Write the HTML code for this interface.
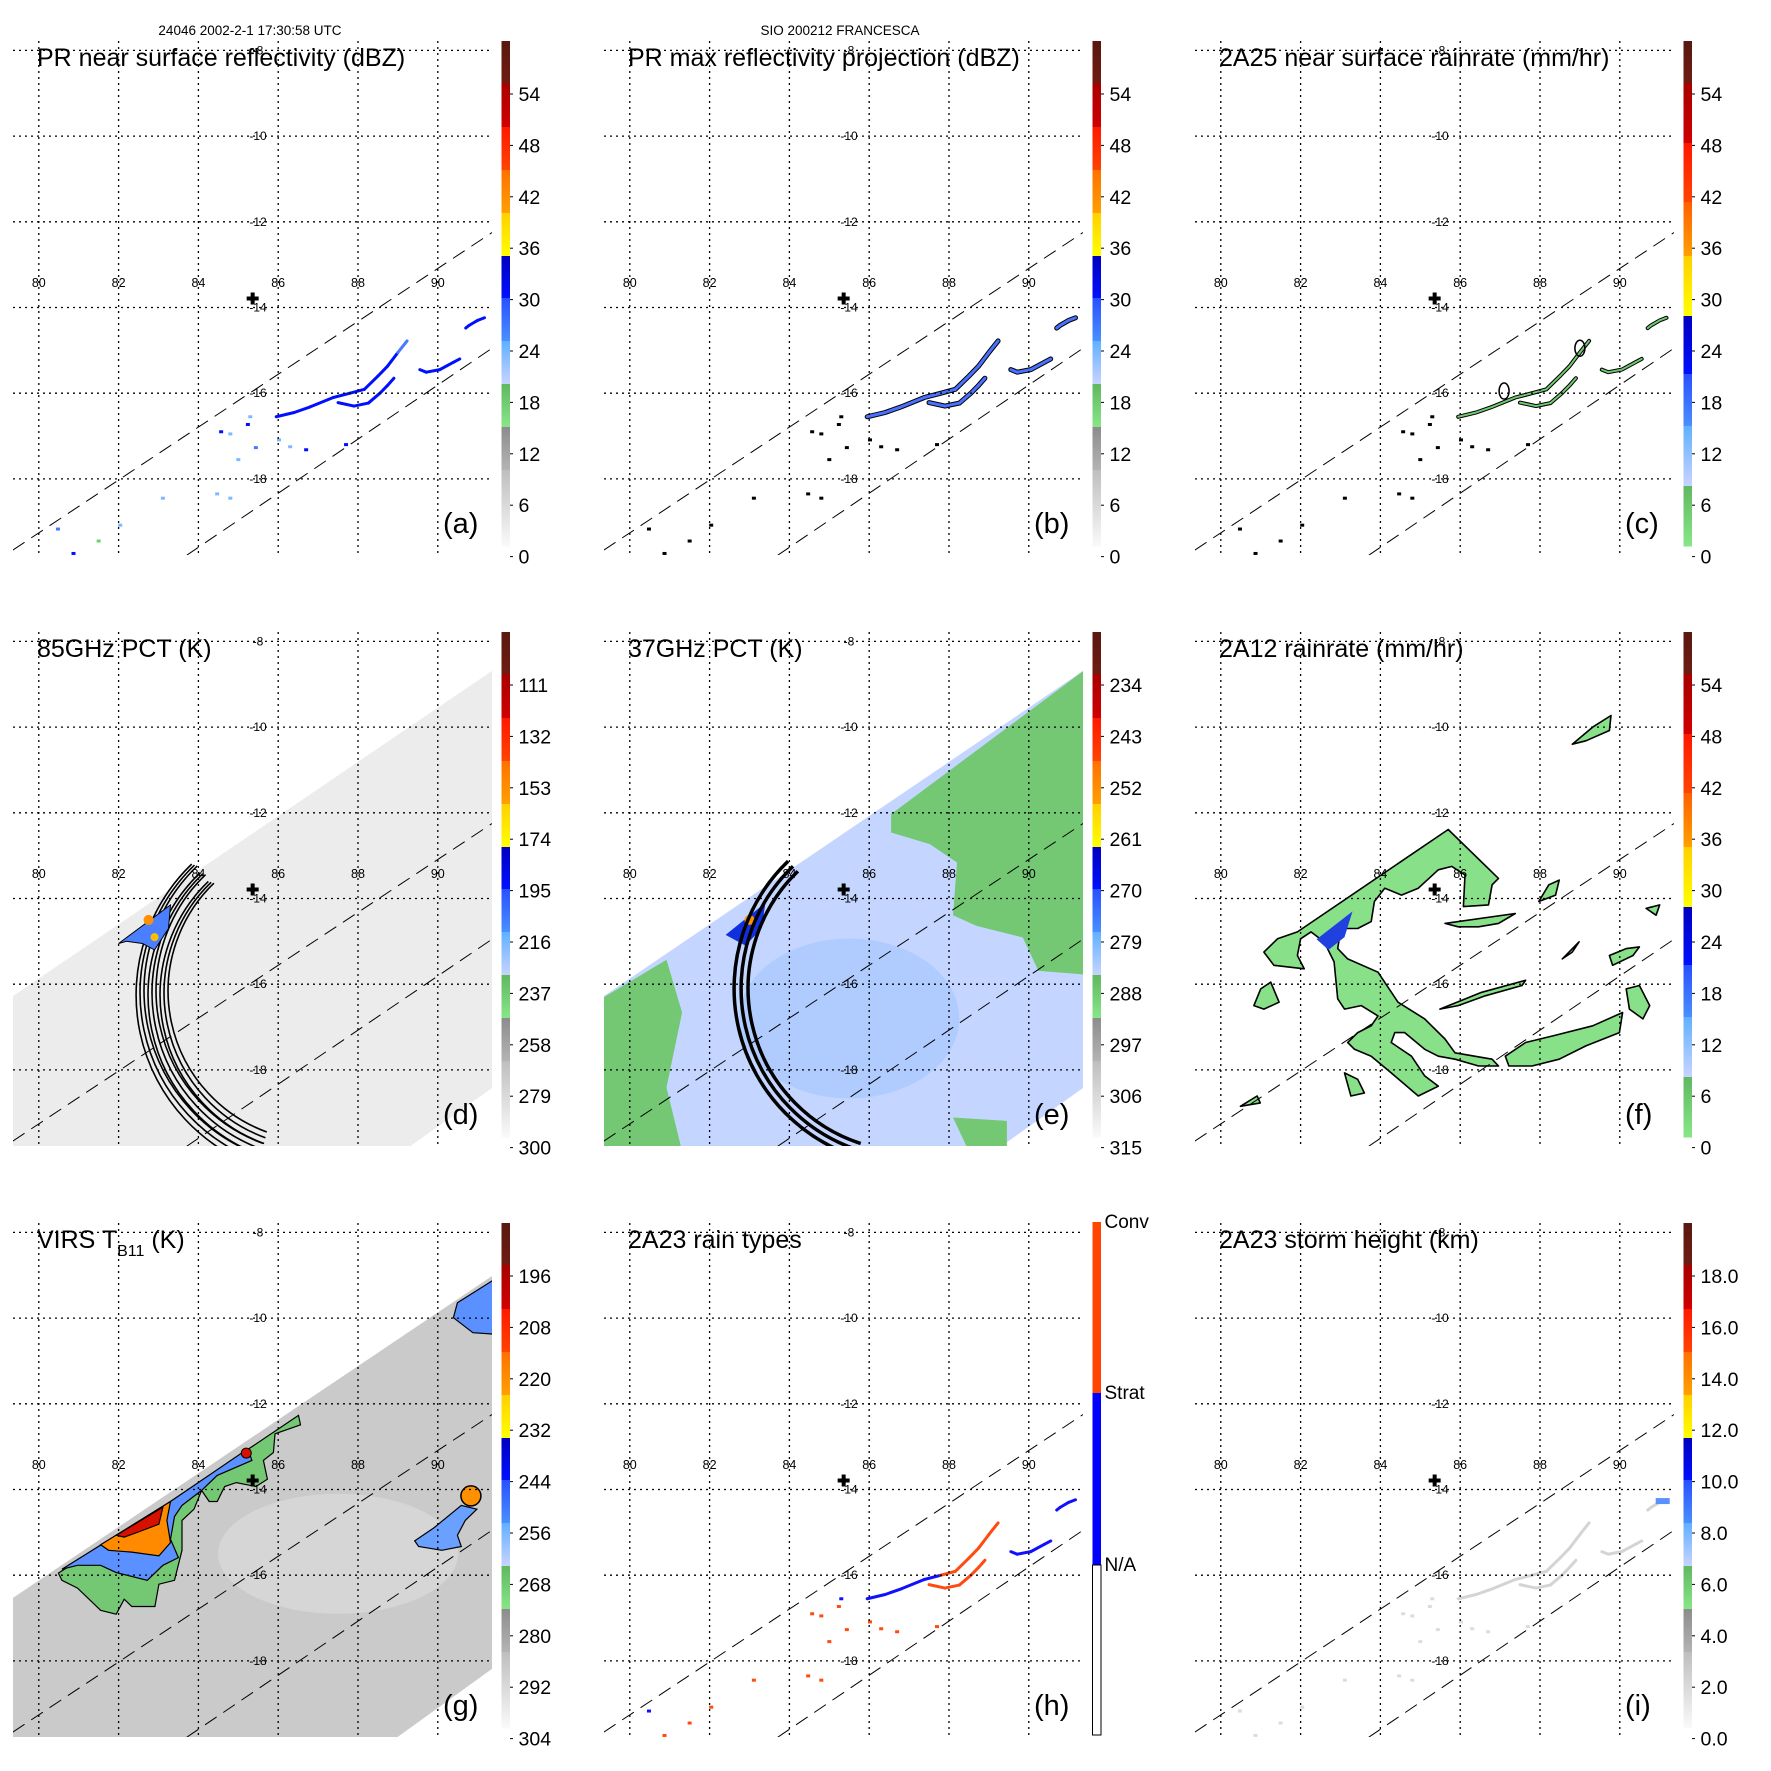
<!DOCTYPE html>
<html><head><meta charset="utf-8"><title>SIO 200212 FRANCESCA</title>
<style>html,body{margin:0;padding:0;background:#fff}svg{display:block}text{font-family:"Liberation Sans",sans-serif}</style>
</head><body>
<svg id="fig" xmlns="http://www.w3.org/2000/svg" width="1771" height="1771" viewBox="0 0 1771 1771">
<rect width="1771" height="1771" fill="#fff"/>
<text x="250" y="35" font-size="13.5" text-anchor="middle">24046 2002-2-1 17:30:58 UTC</text>
<text x="840" y="35" font-size="13.5" text-anchor="middle">SIO 200212 FRANCESCA</text>
</svg>
<script>
// ---------- data ----------
const lonTicks=[80,82,84,86,88,90];
const latTicks=[-8,-10,-12,-14,-16,-18];
const stormCenterLon=85.36, stormCenterLat=-13.79;
const prSwathLon=[[79.35,91.36],[83.71,91.36]];
const prSwathLat=[[-19.66,-12.25],[-19.78,-14.95]];
// PR rain streaks
const streakUpperLon=[85.95,86.40,86.80,87.38,87.80,88.16,88.50,88.74,89.00,89.23];
const streakUpperLat=[-16.55,-16.45,-16.32,-16.10,-16.00,-15.91,-15.60,-15.37,-15.05,-14.78];
const streakLowerLon=[87.50,87.90,88.26,88.55,88.74,88.90];
const streakLowerLat=[-16.22,-16.30,-16.23,-16.00,-15.82,-15.65];
const streakRightLon=[89.55,89.71,90.05,90.39,90.55];
const streakRightLat=[-15.45,-15.51,-15.45,-15.28,-15.20];
const streakNELon=[90.70,90.78,91.00,91.17];
const streakNELat=[-14.48,-14.42,-14.30,-14.24];
const streakUpperDbz=[26,28,30,30,29,31,30,29,30,27];
const scatterLon=[84.57,84.80,85.24,85.30,85.44,86.02,86.30,86.70,83.11,84.47,84.80,80.87,80.48,82.04,81.50,87.70,85.00];
const scatterLat=[-16.90,-16.95,-16.73,-16.55,-17.27,-17.09,-17.25,-17.32,-18.45,-18.35,-18.45,-19.74,-19.17,-19.08,-19.45,-17.20,-17.55];
const scatterDbz=[28,24,30,22,26,20,24,28,24,20,22,30,26,20,18,30,22];
const rainTypeUpper=['C','S','S','S','S','C','C','C','C','C'];
const rainTypeScatter=['C','C','C','S','C','C','C','C','C','C','C','C','S','C','C','C','C'];
// 2A12 rain-rate regions (lon,lat polygons)
const tmiRainLon=[[81.92,85.70,86.96,86.80,86.71,86.08,86.12,85.79,85.45,84.95,84.53,84.11,83.85,83.77,83.43,83.01,82.93,83.18,83.94,84.44,85.11,85.62,85.87,86.80,86.96,86.46,85.87,85.45,85.11,84.61,84.36,84.27,84.78,85.11,85.45,84.95,84.27,83.77,83.35,83.18,83.43,83.77,83.94,83.52,83.10,82.93,82.84,82.59,82.26,82.00,81.92,82.09,81.33,81.08,81.42],
 [85.62,87.38,86.96,86.46,85.95],[85.49,86.54,87.64,87.55,86.63,85.95],
 [87.13,87.64,88.31,89.32,90.07,89.99,89.15,88.48,87.80,87.22],[88.81,89.32,89.78,89.74,89.15],
 [87.97,88.22,88.48,88.39],[88.56,88.98,88.81],[89.74,90.16,90.49,90.33,89.82],[90.16,90.49,90.75,90.58,90.24],
 [90.66,91.00,90.91],[80.83,81.00,81.25,81.46,81.08],[83.10,83.43,83.60,83.26],[80.49,80.91,80.99]];
const tmiRainLat=[[-14.78,-12.39,-13.53,-13.68,-14.15,-14.19,-13.45,-13.25,-13.33,-13.76,-13.92,-13.76,-14.07,-14.54,-14.70,-14.70,-15.17,-15.41,-15.72,-16.42,-16.81,-17.28,-17.60,-17.75,-17.91,-17.91,-17.75,-17.68,-17.52,-17.13,-17.13,-17.36,-17.68,-18.14,-18.38,-18.61,-18.07,-17.68,-17.52,-17.36,-17.13,-16.97,-16.74,-16.50,-16.58,-16.34,-15.48,-15.01,-14.78,-14.94,-15.33,-15.64,-15.56,-15.25,-14.94],
 [-14.58,-14.35,-14.58,-14.66,-14.66],[-16.58,-16.19,-15.91,-16.03,-16.27,-16.50],
 [-17.68,-17.36,-17.21,-16.97,-16.66,-17.13,-17.44,-17.75,-17.91,-17.91],[-10.40,-10.00,-9.73,-10.08,-10.32],
 [-14.07,-13.68,-13.57,-13.92],[-15.41,-15.01,-15.25],[-15.33,-15.17,-15.13,-15.33,-15.56],[-16.11,-16.03,-16.50,-16.81,-16.58],
 [-14.23,-14.15,-14.39],[-16.50,-16.11,-15.95,-16.42,-16.58],[-18.07,-18.22,-18.54,-18.61],[-18.85,-18.61,-18.77]];
// swaths
const tmiSwathLon=[79.0,91.5,91.5,89.13,79.0], tmiSwathLat=[-16.5,-8.6,-18.33,-19.9,-19.9];
const virsSwathLon=[79.0,91.5,91.5,88.81,79.0], virsSwathLat=[-16.75,-8.93,-18.09,-19.9,-19.9];
// 37 GHz warm (green) regions
const warm37Lon=[[86.55,91.5,91.5,90.24,89.85,88.69,88.10,88.20,87.52,86.55],[79.0,80.92,81.31,80.92,81.31,79.0],[88.10,89.45,89.45,88.50]];
const warm37Lat=[[-12.03,-8.6,-15.78,-15.69,-14.91,-14.64,-14.39,-13.16,-12.73,-12.46],[-16.5,-15.43,-16.66,-18.41,-19.9,-19.9],[-19.11,-19.19,-19.9,-19.9]];
// VIRS cloud regions
const virsGreenLon=[80.49,83.30,86.51,86.56,85.92,85.88,85.63,85.73,85.44,84.95,84.66,84.47,84.27,84.08,83.89,83.59,83.59,83.40,83.01,82.91,82.33,82.14,81.94,81.55,81.36,80.97,80.58];
const virsGreenLat=[-15.95,-14.28,-12.27,-12.49,-12.70,-13.14,-13.32,-13.76,-13.93,-13.84,-13.93,-14.28,-14.28,-14.02,-14.46,-14.72,-15.42,-16.12,-16.21,-16.73,-16.73,-16.56,-16.91,-16.82,-16.65,-16.30,-16.12];
const virsBlueLon=[80.58,83.30,85.24,85.34,84.47,84.08,83.59,83.40,83.30,83.50,83.11,82.72,81.94,81.55,80.97];
const virsBlueLat=[-15.86,-14.28,-13.05,-13.32,-13.67,-14.02,-14.37,-14.63,-15.16,-15.59,-15.77,-16.12,-15.94,-15.77,-15.77];
const virsOrangeLon=[81.55,83.30,83.21,83.30,83.01,82.33,81.75], virsOrangeLat=[-15.29,-14.28,-14.72,-15.24,-15.55,-15.46,-15.42];
const virsRedLon=[81.94,83.11,83.01,82.53,82.14], virsRedLat=[-15.07,-14.41,-14.81,-14.98,-15.11];
const virsEastLon=[89.42,89.91,90.59,90.98,90.69,90.49,90.59,90.10,89.52], virsEastLat=[-15.20,-14.89,-14.37,-14.46,-14.72,-15.07,-15.33,-15.42,-15.33];
const virsNELon=[90.49,91.5,91.5,90.88,90.39], virsNELat=[-9.64,-9.05,-10.38,-10.34,-9.99];
const arc85Radii=[150,154,158,162,166,170,174,178,182];
const arc37Radii=[163,170,177];
// colorbars
const cbStd=[['#5a1810','#6e1c12'],['#a80000','#d00000'],['#ff1800','#ff4400'],['#ff7000','#ffa000'],['#ffd000','#ffff00'],['#0000c0','#0010ff'],['#2850ff','#4a90ff'],['#60b0ff','#c8d4ff'],['#60b860','#88e688'],['#8c8c8c','#b4b4b4'],['#bebebe','#fafafa']];
const cbStdEdges=[41,83,127,170,213,256,298,341,384,427,470,546];
const cbRain=[['#5a1810','#6e1c12'],['#a80000','#d00000'],['#ff1800','#ff4400'],['#ff6000','#ffa000'],['#ffd000','#ffff00'],['#0000c0','#0010ff'],['#2850ff','#4a90ff'],['#60b0ff','#c8d4ff'],['#60b860','#88e688']];
const cbRainEdges=[41,83,143,202,256,316,374,426,486,546];
const labelsA=['54','48','42','36','30','24','18','12','6','0'];
const labelsD=['111','132','153','174','195','216','237','258','279','300'];
const labelsE=['234','243','252','261','270','279','288','297','306','315'];
const labelsG=['196','208','220','232','244','256','268','280','292','304'];
const labelsI=['18.0','16.0','14.0','12.0','10.0','8.0','6.0','4.0','2.0','0.0'];
const dbzColor=[[18,'#70d070'],[24,'#80b8ff'],[27,'#4878ff'],[31,'#0010ff'],[99,'#ffe000']];

// ---------- drawing ----------
const NS='http://www.w3.org/2000/svg';
const svg=document.getElementById('fig');
function el(tag,attrs,parent){const e=document.createElementNS(NS,tag);for(const k in attrs)e.setAttribute(k,attrs[k]);(parent||svg).appendChild(e);return e;}
function X(p,lon){return p.ox+38.8+(lon-80)*39.9;}
function Y(p,lat){return p.oy+50.4+(-8-lat)*42.85;}
function pts(p,lons,lats){return lons.map((l,i)=>X(p,l).toFixed(1)+','+Y(p,lats[i]).toFixed(1)).join(' ');}
function cdbz(v){for(const c of dbzColor)if(v<=c[0])return c[1];return '#ffe000';}
const panels=[
 {id:'a',ox:0,oy:0,title:'PR near surface reflectivity (dBZ)',cb:'std',labels:labelsA},
 {id:'b',ox:591,oy:0,title:'PR max reflectivity projection (dBZ)',cb:'std',labels:labelsA},
 {id:'c',ox:1182,oy:0,title:'2A25 near surface rainrate (mm/hr)',cb:'rain',labels:labelsA},
 {id:'d',ox:0,oy:591,title:'85GHz PCT (K)',cb:'std',labels:labelsD},
 {id:'e',ox:591,oy:591,title:'37GHz PCT (K)',cb:'std',labels:labelsE},
 {id:'f',ox:1182,oy:591,title:'2A12 rainrate (mm/hr)',cb:'rain',labels:labelsA},
 {id:'g',ox:0,oy:1182,title:'VIRS T',cb:'std',labels:labelsG},
 {id:'h',ox:591,oy:1182,title:'2A23 rain types',cb:'type',labels:[]},
 {id:'i',ox:1182,oy:1182,title:'2A23 storm height (km)',cb:'std',labels:labelsI}];
const defs=el('defs',{});
const streaks=[[streakUpperLon,streakUpperLat],[streakLowerLon,streakLowerLat],[streakRightLon,streakRightLat],[streakNELon,streakNELat]];

panels.forEach(p=>{
 const g=el('g',{});
 
 
 const cp=el('clipPath',{id:'clip'+p.id},defs);
 el('rect',{x:p.ox+13,y:p.oy+41,width:479,height:514},cp);
 const plot=el('g',{'clip-path':'url(#clip'+p.id+')'},g);
 
 
 if(p.id==='d'){
  const s=el('polygon',{points:pts(p,tmiSwathLon,tmiSwathLat),fill:'#ececec'},plot);
  
  arc85Radii.forEach((r,i)=>{const cx=X(p,87.0),cy=Y(p,-16.16)+ (i%3)*2;const a1=-134*Math.PI/180,a2=110*Math.PI/180;
   const a=el('path',{d:`M${cx+r*Math.cos(a1)},${cy+r*Math.sin(a1)} A${r},${r} 0 0 0 ${cx+r*Math.cos(a2)},${cy+r*Math.sin(a2)}`,fill:'none',stroke:'#000','stroke-width':1.6},plot);
   });
  const cell=el('polygon',{points:pts(p,[82.0,83.3,83.25,82.9,82.6,82.2],[-15.05,-14.15,-14.7,-15.2,-15.05,-15.0]),fill:'#4a80ff',stroke:'#000','stroke-width':1},plot);
  
  el('circle',{cx:X(p,82.75),cy:Y(p,-14.5),r:5,fill:'#ff9000'},plot);
  el('circle',{cx:X(p,82.9),cy:Y(p,-14.9),r:4,fill:'#ffc000'},plot);
 }
 if(p.id==='e'){
  const s=el('polygon',{points:pts(p,tmiSwathLon,tmiSwathLat),fill:'#c4d6ff'},plot);
  
  el('ellipse',{cx:X(p,85.5),cy:Y(p,-16.8),rx:110,ry:80,fill:'#a8c8ff',opacity:0.7},plot);
  warm37Lon.forEach((L,i)=>{const w=el('polygon',{points:pts(p,L,warm37Lat[i]),fill:'#74c874'},plot);
   });
  const cell=el('polygon',{points:pts(p,[82.4,83.4,83.3,82.9],[-14.85,-14.1,-14.7,-15.1]),fill:'#1030e0'},plot);
  
  el('circle',{cx:X(p,83.0),cy:Y(p,-14.5),r:5,fill:'#ff9000'},plot);
  arc37Radii.forEach(r=>{const cx=X(p,87.05),cy=Y(p,-16.1);const a1=-134*Math.PI/180,a2=108*Math.PI/180;
   const a=el('path',{d:`M${cx+r*Math.cos(a1)},${cy+r*Math.sin(a1)} A${r},${r} 0 0 0 ${cx+r*Math.cos(a2)},${cy+r*Math.sin(a2)}`,fill:'none',stroke:'#000','stroke-width':3.5},plot);
   });
 }
 if(p.id==='g'){
  const s=el('polygon',{points:pts(p,virsSwathLon,virsSwathLat),fill:'#cacaca'},plot);
  
  el('ellipse',{cx:X(p,87.5),cy:Y(p,-15.5),rx:120,ry:60,fill:'#d8d8d8',opacity:0.8},plot);
  [[virsGreenLon,virsGreenLat,'#74c874'],[virsBlueLon,virsBlueLat,'#5a90ff'],[virsOrangeLon,virsOrangeLat,'#ff8a00'],[virsRedLon,virsRedLat,'#d81000'],[virsEastLon,virsEastLat,'#6aa0ff'],[virsNELon,virsNELat,'#5a90ff']].forEach(d=>{
   const c=el('polygon',{points:pts(p,d[0],d[1]),fill:d[2],stroke:'#000','stroke-width':1.2},plot);
   });
  el('circle',{cx:X(p,90.83),cy:Y(p,-14.15),r:10,fill:'#ff9000',stroke:'#000','stroke-width':1.5},plot);
  el('circle',{cx:X(p,85.2),cy:Y(p,-13.15),r:5,fill:'#d81000',stroke:'#000','stroke-width':1},plot);
 }
 if(p.id==='f'){
  tmiRainLon.forEach((L,i)=>{const r=el('polygon',{points:pts(p,L,tmiRainLat[i]),fill:'#88e088',stroke:'#000','stroke-width':1.6,'stroke-linejoin':'round'},plot);
   });
  el('polygon',{points:pts(p,[82.4,83.3,83.1,82.7],[-14.95,-14.3,-14.9,-15.2]),fill:'#2040e0'},plot);
 }
 if('abchi'.includes(p.id)){
  streaks.forEach((s,si)=>{
   const P=pts(p,s[0],s[1]);
   if(p.id==='b'){el('polyline',{points:P,fill:'none',stroke:'#000','stroke-width':5,'stroke-linecap':'round'},plot);}
   if(p.id==='c'){el('polyline',{points:P,fill:'none',stroke:'#000','stroke-width':4,'stroke-linecap':'round'},plot);}
   s[0].forEach((lon,i)=>{if(i===0)return;
    const x1=X(p,s[0][i-1]),y1=Y(p,s[1][i-1]),x2=X(p,lon),y2=Y(p,s[1][i]);
    let col;
    if(p.id==='a')col=cdbz(si===0?streakUpperDbz[i]:29);
    else if(p.id==='b')col='#4a70ff';
    else if(p.id==='c')col='#70c870';
    else if(p.id==='h')col=(si===0?rainTypeUpper[i]:(si===1?'C':'S'))==='C'?'#ff4a10':'#1010ff';
    else col='#d4d4d4';
    const seg=el('line',{x1,y1,x2,y2,stroke:col,'stroke-width':p.id==='c'?2:(p.id==='b'?3:3),'stroke-linecap':'round'},plot);
    });
  });
  scatterLon.forEach((lon,i)=>{
   let col=p.id==='a'?cdbz(scatterDbz[i]):p.id==='b'?'#000':p.id==='c'?'#000':p.id==='h'?(rainTypeScatter[i]==='C'?'#ff4a10':'#1010ff'):'#dcdcdc';
   const d=el('rect',{x:X(p,lon)-2,y:Y(p,scatterLat[i])-1.5,width:4,height:3,fill:col},plot);
   });
  if(p.id==='c'){[[87.1,-15.95],[89.0,-14.95]].forEach(q=>el('ellipse',{cx:X(p,q[0]),cy:Y(p,q[1]),rx:5,ry:8,fill:'none',stroke:'#000','stroke-width':1.5},plot));}
  if(p.id==='i'){el('rect',{x:X(p,90.9),y:Y(p,-14.2),width:14,height:6,fill:'#5a90ff'},plot);}
 }
 prSwathLon.forEach((L,i)=>{const l=el('line',{x1:X(p,L[0]),y1:Y(p,prSwathLat[i][0]),x2:X(p,L[1]),y2:Y(p,prSwathLat[i][1]),stroke:'#000','stroke-width':1,'stroke-dasharray':'14,8'},plot);
  });
 latTicks.forEach(lat=>{const l=el('line',{x1:p.ox+13,x2:p.ox+492,y1:Y(p,lat),y2:Y(p,lat),stroke:'#000','stroke-width':1.3,'stroke-dasharray':'2,4'},g);
  
  const t=el('text',{x:p.ox+258,y:Y(p,lat)+4,'font-size':12,'text-anchor':'middle'},g);t.textContent=lat;
  });
 lonTicks.forEach(lon=>{const l=el('line',{x1:X(p,lon),x2:X(p,lon),y1:p.oy+41,y2:p.oy+555,stroke:'#000','stroke-width':1.3,'stroke-dasharray':'2,4'},g);
  
  const t=el('text',{x:X(p,lon),y:p.oy+287,'font-size':12.5,'text-anchor':'middle'},g);t.textContent=lon;
  });
 const cx=X(p,stormCenterLon),cy=Y(p,stormCenterLat);
 const cr=el('path',{d:`M${cx-6},${cy}H${cx+6}M${cx},${cy-6}V${cy+6}`,stroke:'#000','stroke-width':4},g);
 
 const t=el('text',{x:p.ox+37,y:p.oy+66,'font-size':25},g);
 
 if(p.id==='g'){t.innerHTML='VIRS T<tspan font-size="16" dy="8">B11</tspan><tspan dy="-8"> (K)</tspan>';}else t.textContent=p.title;
 const lt=el('text',{x:p.ox+443,y:p.oy+533,'font-size':29},g);lt.textContent='('+p.id+')';
 
 const cb=el('g',{},g);
 
 const bx=p.ox+501.5,bw=8.5;
 if(p.cb==='type'){
  el('rect',{x:bx,y:p.oy+40,width:bw,height:171,fill:'#ff4500'},cb);
  el('rect',{x:bx,y:p.oy+211,width:bw,height:172,fill:'#0000ff'},cb);
  el('rect',{x:bx,y:p.oy+383,width:bw,height:170,fill:'#fff',stroke:'#000','stroke-width':1},cb);
  [['Conv',47],['Strat',218],['N/A',390]].forEach(q=>{const tt=el('text',{x:bx+12,y:p.oy+q[1]-1,'font-size':19},cb);tt.textContent=q[0];
   });
 } else {
  const cols=p.cb==='rain'?cbRain:cbStd, ed=p.cb==='rain'?cbRainEdges:cbStdEdges;
  cols.forEach((c,i)=>{const gid='gr'+p.id+i;const lg=el('linearGradient',{id:gid,x1:0,y1:1,x2:0,y2:0},defs);
   el('stop',{offset:0,'stop-color':c[1]},lg);el('stop',{offset:1,'stop-color':c[0]},lg);
   el('rect',{x:bx,y:p.oy+ed[i],width:bw,height:ed[i+1]-ed[i]+0.5,fill:`url(#${gid})`},cb);});
  p.labels.forEach((lab,k)=>{const y=p.oy+94+k*51.4;
   el('line',{x1:bx+bw,x2:bx+bw+3,y1:y,y2:y,stroke:'#000','stroke-width':1},cb);
   const tt=el('text',{x:bx+17,y:y+7,'font-size':19.5},cb);tt.textContent=lab;
   });
 }
});
</script>
</body></html>
